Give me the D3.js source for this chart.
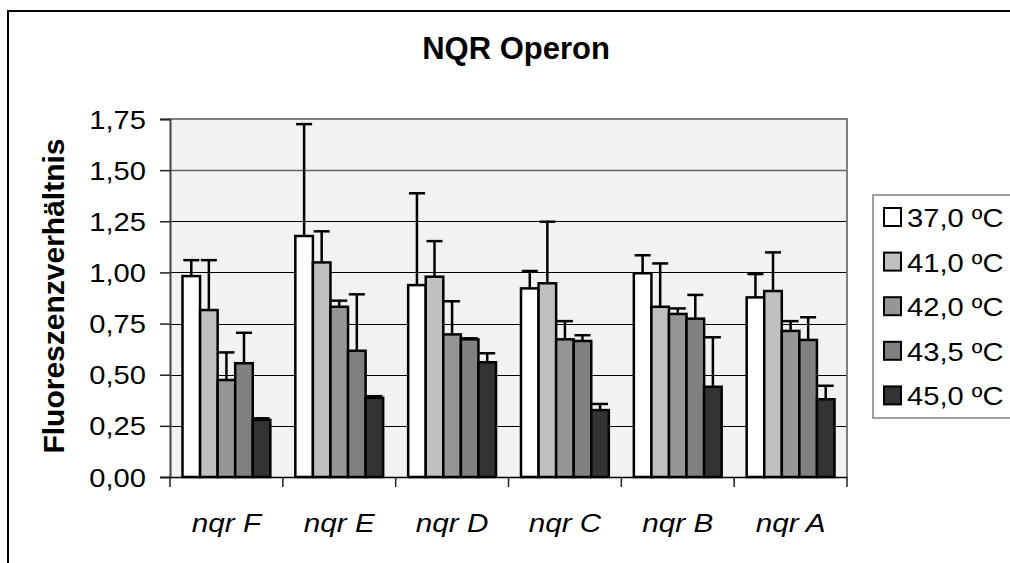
<!DOCTYPE html>
<html>
<head>
<meta charset="utf-8">
<script src="https://cdn.jsdelivr.net/npm/d3@7"></script>
<style>
  html, body { margin: 0; padding: 0; background: #ffffff; }
  svg { display: block; font-family: "Liberation Sans", Arial, sans-serif; }
</style>
</head>
<body>
<svg id="chart" width="1010" height="563"></svg>
<script>
// Genes of the NQR operon (x categories)
const categories = ["nqr F", "nqr E", "nqr D", "nqr C", "nqr B", "nqr A"];
// Temperature series
const seriesNames = ["37,0 ºC", "41,0 ºC", "42,0 ºC", "43,5 ºC", "45,0 ºC"];
// Mean fluorescence ratio per series, in category order
const values37 = [0.982, 1.178, 0.938, 0.922, 0.996, 0.878];
const values41 = [0.816, 1.049, 0.979, 0.947, 0.832, 0.909];
const values42 = [0.474, 0.832, 0.697, 0.673, 0.797, 0.714];
const values435 = [0.556, 0.617, 0.673, 0.665, 0.774, 0.670];
const values45 = [0.279, 0.387, 0.561, 0.327, 0.441, 0.380];
// Upper error (standard deviation) per series
const err37 = [0.078, 0.547, 0.449, 0.085, 0.088, 0.114];
const err41 = [0.244, 0.152, 0.174, 0.301, 0.212, 0.189];
const err42 = [0.135, 0.030, 0.162, 0.089, 0.027, 0.048];
const err435 = [0.149, 0.276, 0.005, 0.028, 0.116, 0.111];
const err45 = [0.008, 0.008, 0.044, 0.030, 0.242, 0.066];
// Y axis ticks
const yTicks = [0, 0.25, 0.5, 0.75, 1.0, 1.25, 1.5, 1.75];

const seriesValues = [values37, values41, values42, values435, values45];
const seriesErrors = [err37, err41, err42, err435, err45];
const fills = ["#ffffff", "#c0c0c0", "#969696", "#808080", "#333333"];

const svg = d3.select("#chart");
const fmt = v => d3.format(".2f")(v).replace(".", ",");

// widen a text element horizontally by factor k
function stretch(sel, k) {
  sel.each(function () {
    const len = this.getComputedTextLength();
    d3.select(this).attr("textLength", len * k).attr("lengthAdjust", "spacingAndGlyphs");
  });
  return sel;
}

// outer chart frame
svg.append("rect")
  .attr("x", 8).attr("y", 11).attr("width", 1020).attr("height", 570)
  .attr("fill", "#ffffff").attr("stroke", "#000").attr("stroke-width", 2);

const plot = { left: 170, right: 847, top: 119, bottom: 477 };

const x = d3.scaleBand().domain(categories).range([plot.left, plot.right]).padding(0);
const groupPad = 12.5;
const xInner = d3.scaleBand().domain(d3.range(seriesNames.length))
  .range([groupPad, x.bandwidth() - groupPad]).padding(0);
const y = d3.scaleLinear().domain([0, 1.75]).range([plot.bottom, plot.top]);

// plot background
svg.append("rect")
  .attr("x", plot.left).attr("y", plot.top)
  .attr("width", plot.right - plot.left).attr("height", plot.bottom - plot.top)
  .attr("fill", "#f2f2f2");

// horizontal gridlines
svg.append("g").selectAll("line")
  .data(yTicks.filter(t => t > 0 && t < 1.75))
  .join("line")
  .attr("x1", plot.left).attr("x2", plot.right)
  .attr("y1", d => Math.round(y(d)) + 0.5).attr("y2", d => Math.round(y(d)) + 0.5)
  .attr("stroke", d => d === 1.5 ? "#666" : "#000")
  .attr("stroke-width", d => d === 1.5 ? 1.6 : 1);

// top and right border of the plot area
svg.append("path")
  .attr("d", `M${plot.left},${plot.top}H${plot.right}V${plot.bottom}`)
  .attr("fill", "none").attr("stroke", "#808080").attr("stroke-width", 2);

// bars
const groups = svg.append("g").selectAll("g")
  .data(seriesNames.map((name, i) => ({ name, i })))
  .join("g");

groups.selectAll("rect")
  .data(s => categories.map((c, j) => ({ c, s: s.i, v: seriesValues[s.i][j], e: seriesErrors[s.i][j] })))
  .join("rect")
  .attr("x", d => x(d.c) + xInner(d.s))
  .attr("y", d => y(d.v))
  .attr("width", xInner.bandwidth())
  .attr("height", d => y(0) - y(d.v))
  .attr("fill", d => fills[d.s])
  .attr("stroke", "#000").attr("stroke-width", 2.5);

// upper error bars
const capW = 16;
const errG = svg.append("g").attr("stroke", "#000").attr("stroke-width", 2.5);
groups.each(function (s) {
  categories.forEach((c, j) => {
    const v = seriesValues[s.i][j], e = seriesErrors[s.i][j];
    const cx = x(c) + xInner(s.i) + xInner.bandwidth() / 2;
    errG.append("line").attr("x1", cx).attr("x2", cx).attr("y1", y(v)).attr("y2", y(v + e));
    errG.append("line").attr("x1", cx - capW / 2).attr("x2", cx + capW / 2).attr("y1", y(v + e)).attr("y2", y(v + e));
  });
});

// y axis
const yAxis = svg.append("g")
  .attr("transform", `translate(${plot.left},0)`)
  .call(d3.axisLeft(y).tickValues(yTicks).tickFormat(fmt).tickSize(10).tickPadding(14));
yAxis.select(".domain").attr("stroke", "#444").attr("stroke-width", 2);
yAxis.selectAll(".tick line").attr("stroke", "#222").attr("stroke-width", 1.5);
yAxis.selectAll(".tick text")
  .attr("font-size", 26).attr("fill", "#000").attr("font-family", "Liberation Sans, Arial, sans-serif")
  .attr("dy", "0.35em")
  .call(stretch, 1.12);

// x axis
const xAxis = svg.append("g")
  .attr("transform", `translate(0,${plot.bottom})`)
  .call(d3.axisBottom(x).tickSize(0).tickPadding(0).tickFormat(""));
xAxis.select(".domain").attr("stroke", "#000").attr("stroke-width", 1.5);
// ticks between categories
svg.append("g").selectAll("line")
  .data(d3.range(categories.length + 1))
  .join("line")
  .attr("x1", i => plot.left + i * x.bandwidth()).attr("x2", i => plot.left + i * x.bandwidth())
  .attr("y1", plot.bottom).attr("y2", plot.bottom + 10)
  .attr("stroke", "#222").attr("stroke-width", 1.5);
// category labels
svg.append("g").selectAll("text")
  .data(categories)
  .join("text")
  .attr("x", d => x(d) + x.bandwidth() / 2)
  .attr("y", 532)
  .attr("text-anchor", "middle")
  .attr("font-size", 26).attr("font-style", "italic")
  .text(d => d)
  .call(stretch, 1.14);

// title
svg.append("text")
  .attr("x", 516).attr("y", 59)
  .attr("text-anchor", "middle")
  .attr("font-size", 31).attr("font-weight", "bold")
  .text("NQR Operon")
  .call(stretch, 1.0);

// y axis title
svg.append("text")
  .attr("transform", "translate(64,296) rotate(-90)")
  .attr("text-anchor", "middle")
  .attr("font-size", 30).attr("font-weight", "bold")
  .text("Fluoreszenzverhältnis")
  .call(stretch, 1.0);

// legend
const legend = svg.append("g");
legend.append("rect")
  .attr("x", 873).attr("y", 195).attr("width", 200).attr("height", 223)
  .attr("fill", "#ffffff").attr("stroke", "#808080").attr("stroke-width", 1.5);
const items = legend.selectAll("g.item")
  .data(seriesNames)
  .join("g").attr("class", "item")
  .attr("transform", (d, i) => `translate(0,${217 + i * 44.6})`);
items.append("rect")
  .attr("x", 884).attr("y", -9).attr("width", 17).attr("height", 18)
  .attr("fill", (d, i) => fills[i]).attr("stroke", "#000").attr("stroke-width", 2);
items.append("text")
  .attr("x", 907).attr("y", 10)
  .attr("font-size", 26)
  .text(d => d)
  .call(stretch, 1.12);
</script>
</body>
</html>
